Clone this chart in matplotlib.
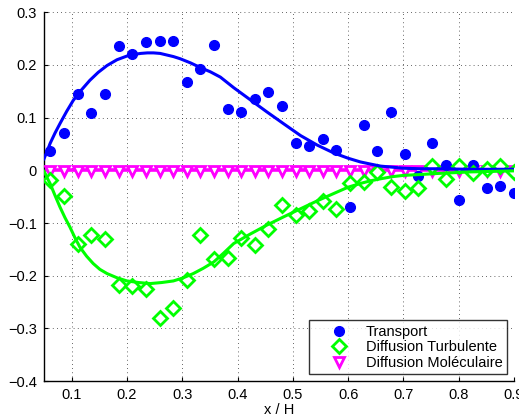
import matplotlib
matplotlib.use("Agg")
import matplotlib.pyplot as plt
from matplotlib.ticker import FuncFormatter, FixedLocator

plt.rcParams['font.family'] = ['Liberation Sans', 'DejaVu Sans']

# Data points (x / H positions)
x_pts = [0.061, 0.086, 0.111, 0.135, 0.160, 0.185, 0.209, 0.234, 0.259, 0.283,
         0.308, 0.333, 0.357, 0.382, 0.407, 0.431, 0.456, 0.481, 0.505, 0.530,
         0.555, 0.579, 0.604, 0.629, 0.653, 0.678, 0.703, 0.727, 0.752, 0.777,
         0.801, 0.826, 0.851, 0.875, 0.900]

transport = [0.037, 0.070, 0.144, 0.108, 0.145, 0.236, 0.220, 0.244, 0.245, 0.246,
             0.167, 0.192, 0.238, 0.117, 0.111, 0.135, 0.148, 0.122, 0.051, 0.046,
             0.059, 0.038, -0.070, 0.086, 0.036, 0.111, 0.031, -0.011, 0.052, 0.011,
             -0.056, 0.011, -0.033, -0.030, -0.043]

diff_turb = [-0.019, -0.048, -0.139, -0.123, -0.130, -0.217, -0.220, -0.225, -0.281, -0.262,
             -0.209, -0.122, -0.169, -0.166, -0.128, -0.142, -0.111, -0.065, -0.084, -0.077,
             -0.058, -0.074, -0.024, -0.023, -0.004, -0.032, -0.039, -0.033, 0.008, -0.017,
             0.009, -0.006, 0.003, 0.009, -0.003]

diff_mol = [-0.002] * 35

# Fitted curves
x_fit_t = [0.050, 0.056, 0.061, 0.070, 0.079, 0.091, 0.103, 0.118, 0.133, 0.148, 0.164,
           0.182, 0.200, 0.212, 0.225, 0.237, 0.248, 0.260, 0.272, 0.284, 0.296,
           0.315, 0.333, 0.351, 0.369, 0.393, 0.423, 0.453, 0.484, 0.514, 0.544,
           0.574, 0.600, 0.622, 0.640, 0.659, 0.680, 0.700, 0.730, 0.760, 0.820, 0.900]
y_fit_t = [0.022, 0.037, 0.051, 0.071, 0.089, 0.112, 0.133, 0.153, 0.171, 0.186, 0.199,
           0.210, 0.217, 0.220, 0.222, 0.223, 0.223, 0.222, 0.219, 0.216, 0.212,
           0.204, 0.195, 0.187, 0.177, 0.157, 0.134, 0.111, 0.088, 0.066, 0.048,
           0.033, 0.023, 0.016, 0.012, 0.008, 0.006, 0.004, 0.003, 0.003, 0.002, 0.002]

x_fit_d = [0.050, 0.052, 0.056, 0.061, 0.070, 0.079, 0.088, 0.097, 0.106, 0.115, 0.127,
           0.139, 0.151, 0.164, 0.182, 0.200, 0.221, 0.242, 0.263, 0.284, 0.302,
           0.320, 0.338, 0.357, 0.375, 0.393, 0.423, 0.453, 0.484, 0.514, 0.544,
           0.574, 0.600, 0.622, 0.640, 0.659, 0.680, 0.701, 0.730, 0.761, 0.821, 0.900]
y_fit_d = [-0.002, -0.006, -0.015, -0.025, -0.048, -0.070, -0.090, -0.108, -0.128, -0.146, -0.163,
           -0.177, -0.188, -0.196, -0.204, -0.210, -0.213, -0.215, -0.213, -0.210, -0.204,
           -0.196, -0.186, -0.174, -0.157, -0.139, -0.121, -0.104, -0.088, -0.073, -0.058,
           -0.044, -0.032, -0.025, -0.020, -0.016, -0.012, -0.0095, -0.008, -0.006, -0.003, -0.001]

x_fit_m = [0.050, 0.900]
y_fit_m = [0.0, 0.0]

x_ticks = [0.1, 0.2, 0.3, 0.4, 0.5, 0.6, 0.7, 0.8, 0.9]
y_ticks = [-0.4, -0.3, -0.2, -0.1, 0, 0.1, 0.2, 0.3]

fig = plt.figure(figsize=(5.19, 4.18), dpi=100)
ax = fig.add_axes([0.0848, 0.0885, 0.9055, 0.882])

blue = '#0000ff'
green = '#00ff00'
mag = '#ff00ff'

ax.plot(x_fit_m, y_fit_m, color=mag, lw=2.6, zorder=2)
ax.plot(x_pts, transport, 'o', color=blue, ms=7, label='Transport', zorder=4)
ax.plot(x_pts, diff_turb, 'D', mfc='white', mec=green, mew=2.0, ms=7.2,
        label='Diffusion Turbulente', zorder=4)
ax.plot(x_pts, diff_mol, 'v', mfc='white', mec=mag, mew=2.0, ms=7.5,
        label='Diffusion Moléculaire', zorder=3)
ax.plot(x_fit_t, y_fit_t, color=blue, lw=2.2, zorder=5)
ax.plot(x_fit_d, y_fit_d, color=green, lw=2.2, zorder=5)

ax.set_xlim(0.05, 0.9)
ax.set_ylim(-0.4, 0.3)
ax.xaxis.set_major_locator(FixedLocator(x_ticks))
ax.yaxis.set_major_locator(FixedLocator(y_ticks))
fmt = FuncFormatter(lambda v, p: ('%g' % round(v, 3)).replace('-', '\u2212'))
ax.xaxis.set_major_formatter(fmt)
ax.yaxis.set_major_formatter(fmt)
ax.tick_params(direction='in', length=3, width=0.8, labelsize=10.5, pad=5,
               top=False, right=False, colors='black')
for s in ['top', 'right']:
    ax.spines[s].set_visible(False)
for s in ['left', 'bottom']:
    ax.spines[s].set_linewidth(1.0)
ax.grid(True, color='#333333', lw=0.6, linestyle=(0, (1, 4)))
ax.set_axisbelow(True)
ax.set_xlabel('x / H', fontsize=10.5, labelpad=1)

leg = ax.legend(loc='lower right', fontsize=10.5, frameon=True, fancybox=False,
                edgecolor='black', borderaxespad=0.48, handletextpad=0.1,
                labelspacing=0.1, borderpad=0.3, handlelength=3.5)
leg.get_frame().set_linewidth(1.0)

fig.savefig('out.png', dpi=100)
